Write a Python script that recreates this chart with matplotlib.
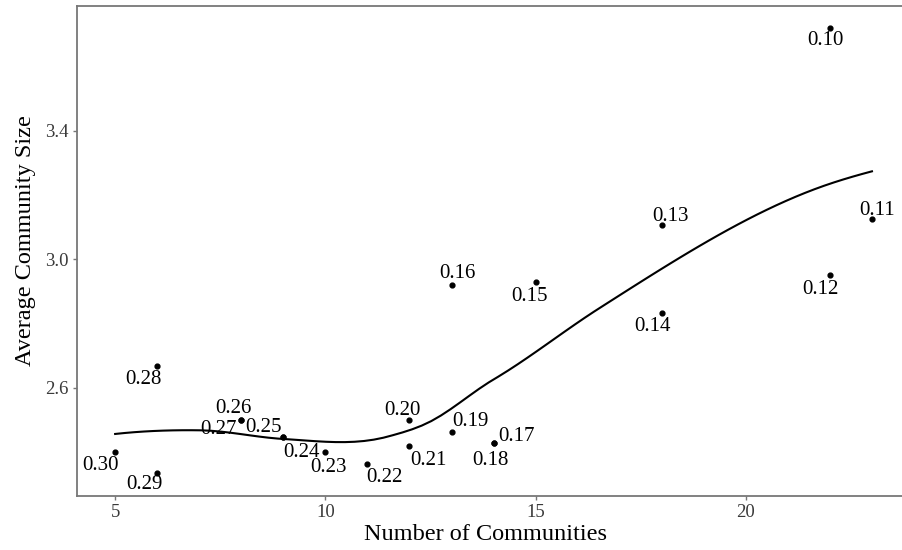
import numpy as np
import matplotlib
matplotlib.use("Agg")
import matplotlib.pyplot as plt

# resolution label, number of communities, average community size
labels = ["0.10", "0.11", "0.12", "0.13", "0.14", "0.15", "0.16", "0.17", "0.18", "0.19", "0.20",
          "0.21", "0.22", "0.23", "0.24", "0.25", "0.26", "0.27", "0.28", "0.29", "0.30"]
n_comm = [22, 23, 22, 18, 18, 15, 13, 14, 14, 13, 12, 12, 11, 10, 9, 9, 8, 8, 6, 6, 5]
avg_size = [3.721, 3.125, 2.950, 3.106, 2.832, 2.929, 2.919, 2.429, 2.429, 2.462, 2.500,
            2.417, 2.363, 2.401, 2.445, 2.445, 2.500, 2.500, 2.667, 2.333, 2.401]

x_ticks = [5, 10, 15, 20]
y_ticks = [2.6, 3.0, 3.4]

# label offsets in pixels (dx, dy), like a repel layout
label_offsets = {
    "0.10": (-4, -11), "0.11": (5, 11), "0.12": (-9, -12), "0.13": (9, 11),
    "0.14": (-9, -11.5), "0.15": (-6, -12.5), "0.16": (6, 14), "0.17": (23, 8.5),
    "0.18": (-3, -16), "0.19": (19, 12), "0.20": (-7, 11), "0.21": (19, -12),
    "0.22": (17, -12), "0.23": (3, -14), "0.24": (18, -13), "0.25": (-20, 11.5),
    "0.26": (-8, 13), "0.27": (-23, -8), "0.28": (-14, -11), "0.29": (-13, -9.5),
    "0.30": (-14.5, -11.5),
}


def local_fit(x, y, x0, q):
    # weighted quadratic around x0 with tricube weights -> value, slope
    d = np.abs(x - x0)
    h = np.sort(d)[q - 1]
    w = np.clip(1 - (d / h) ** 3, 0, None) ** 3
    A = np.vstack([np.ones_like(x), x - x0, (x - x0) ** 2]).T
    W = np.sqrt(w)
    coef, *_ = np.linalg.lstsq(A * W[:, None], y * W, rcond=None)
    return coef[0], coef[1]


def kd_vertices(xs_sorted, fc):
    # split cells at the median until they hold at most fc points (1-d kd tree)
    cuts = []

    def split(lo, hi):
        if hi - lo + 1 <= fc:
            return
        m = (lo + hi) // 2
        cuts.append((xs_sorted[m] + xs_sorted[m + 1]) / 2)
        split(lo, m)
        split(m + 1, hi)

    split(0, len(xs_sorted) - 1)
    return cuts


def loess(x, y, xs, span=0.75, cell=0.2):
    # loess with kd-tree vertices and cubic Hermite interpolation, as in R
    x = np.asarray(x, float)
    y = np.asarray(y, float)
    n = len(x)
    q = int(np.floor(n * span))
    fc = int(np.floor(n * span * cell))
    xsrt = np.sort(x)
    margin = 0.005 * (xsrt[-1] - xsrt[0])
    verts = np.array(sorted(set([xsrt[0] - margin, xsrt[-1] + margin] + kd_vertices(xsrt, fc))))
    vals = np.array([local_fit(x, y, v, q) for v in verts])
    out = []
    for x0 in xs:
        i = np.clip(np.searchsorted(verts, x0) - 1, 0, len(verts) - 2)
        x1, x2 = verts[i], verts[i + 1]
        hw = x2 - x1
        t = (x0 - x1) / hw
        y1, s1 = vals[i]
        y2, s2 = vals[i + 1]
        h00 = 2 * t ** 3 - 3 * t ** 2 + 1
        h10 = t ** 3 - 2 * t ** 2 + t
        h01 = -2 * t ** 3 + 3 * t ** 2
        h11 = t ** 3 - t ** 2
        out.append(h00 * y1 + h10 * hw * s1 + h01 * y2 + h11 * hw * s2)
    return np.array(out)


plt.rcParams['font.family'] = ['Liberation Serif', 'DejaVu Serif']

fig = plt.figure(figsize=(9.02, 5.5), dpi=100)
ax = fig.add_axes([77.3 / 902, 1 - 495.5 / 550, (909.8 - 77.3) / 902, (495.5 - 5.7) / 550])

xs = np.linspace(min(n_comm), max(n_comm), 80)
ax.plot(xs, loess(n_comm, avg_size, xs), color='black', lw=1.5, zorder=2)
ax.scatter(n_comm, avg_size, s=12, color='black', zorder=3)

for lab, xv, yv in zip(labels, n_comm, avg_size):
    dx, dy = label_offsets[lab]
    ax.annotate(lab, (xv, yv), xytext=(dx, dy - 2), textcoords='offset pixels',
                ha='center', va='center', fontsize=15, color='black')

ax.set_xlim(4.1, 23.9)
ax.set_ylim(2.264, 3.79)
ax.set_xticks(x_ticks)
ax.set_yticks(y_ticks)
ax.set_yticklabels([f"{v:.1f}" for v in y_ticks])

for side in ['top', 'left', 'bottom']:
    ax.spines[side].set_color('#777777')
    ax.spines[side].set_linewidth(1.3)
ax.spines['right'].set_visible(False)
ax.tick_params(direction='out', length=3, width=1, color='#777777',
               labelsize=13.5, labelcolor='#3a3a3a', pad=3)

ax.set_xlabel("Number of Communities", fontsize=17.5, labelpad=2)
ax.set_ylabel("Average Community Size", fontsize=17.5, labelpad=7)
# titles sit on the visible panel centre rather than the full axes
ax.xaxis.label.set_x(0.49)
ax.yaxis.label.set_y(0.52)

fig.savefig("out.png", dpi=100)
